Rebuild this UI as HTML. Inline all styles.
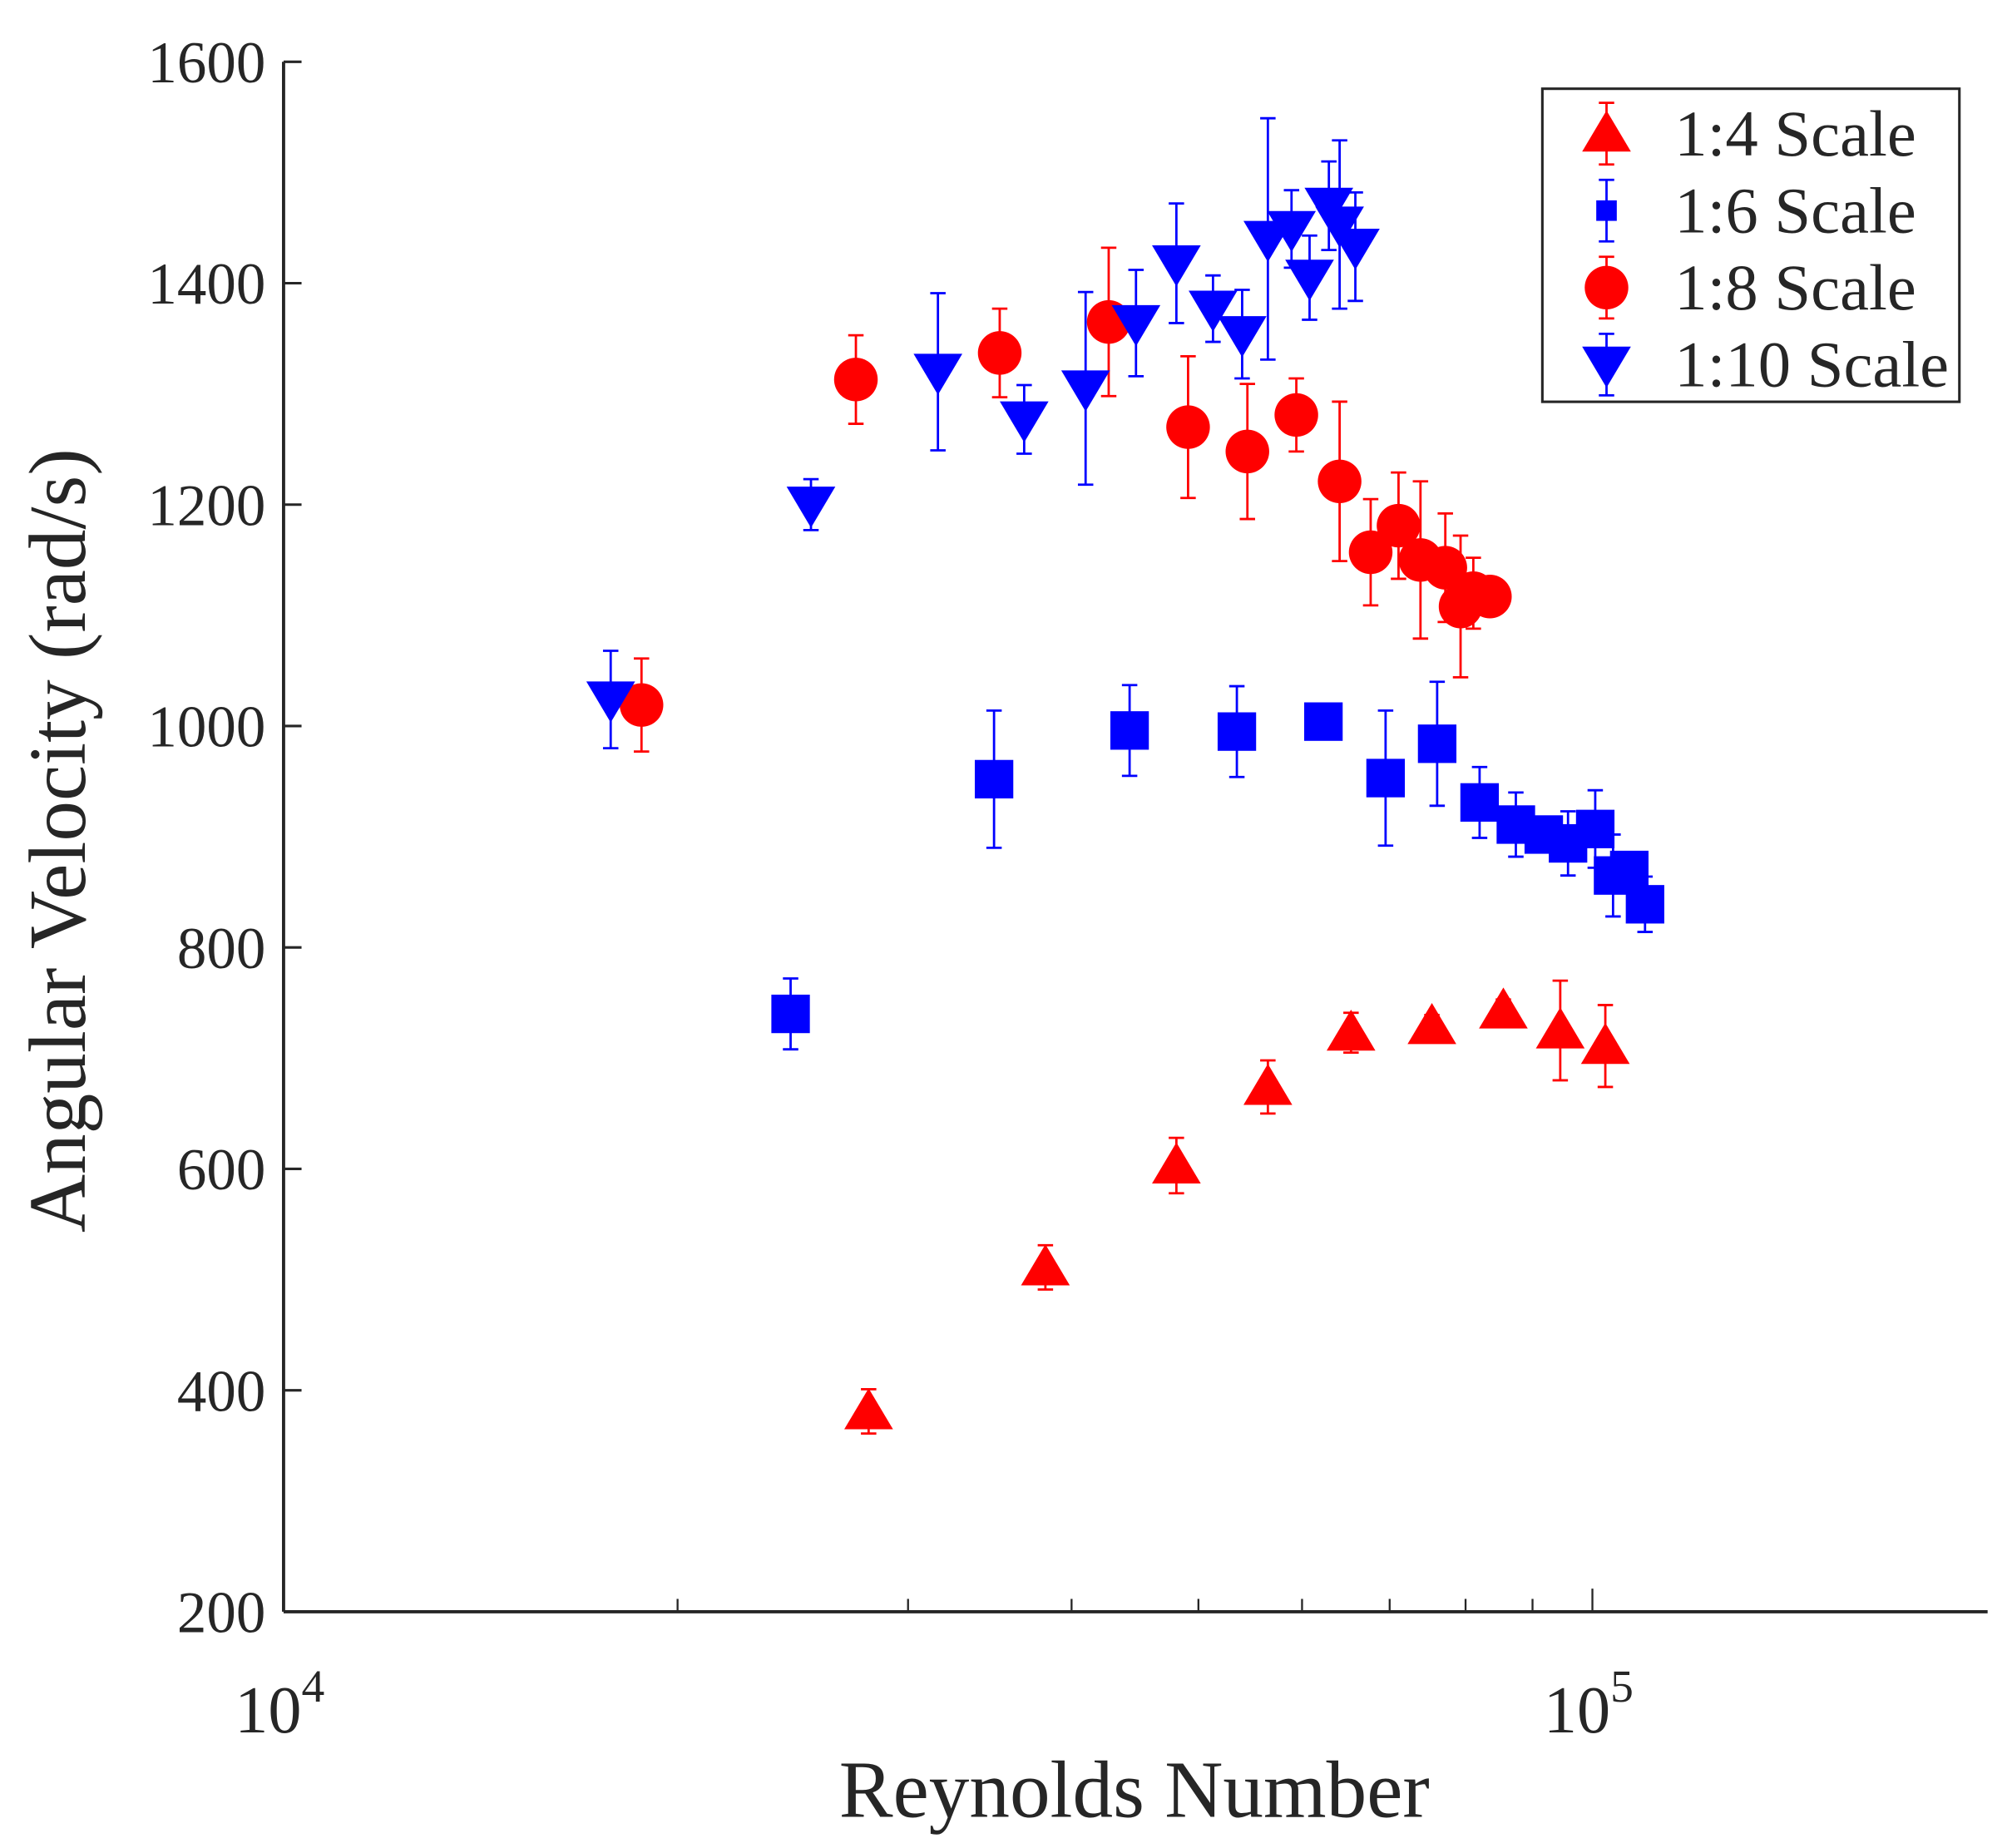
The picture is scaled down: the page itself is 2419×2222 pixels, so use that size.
<!DOCTYPE html>
<html><head><meta charset="utf-8"><style>
html,body{margin:0;padding:0;background:#fff}
svg{display:block}
text{font-family:"Liberation Serif",serif;fill:#262626}
</style></head><body>
<svg id="chart" width="2419" height="2222" viewBox="0 0 1568 1440" xmlns="http://www.w3.org/2000/svg">
<g id="axes"></g>
<g id="marks"></g>
<text x="884" y="1416" font-size="63" text-anchor="middle">Reynolds Number</text>
<text transform="translate(66,655) rotate(-90)" font-size="63" text-anchor="middle">Angular Velocity (rad/s)</text>
<g id="legend"></g>
</svg>
<script>
const s1Re=[27990,38200,48100,56500,65400,75400,85500,94500,102300];
const s1V=[381,511,603,674,723,729,743,725,711];
const s1E=[20,20,25,24,18,10,10,45,37];
const s2Re=[24400,34900,44300,53500,62300,69500,76100,82000,87400,91800,95800,100500,103700,106700,109700];
const s2V=[740,952,996,995,1004,953,984,931,911,902,894,907,865,870,839];
const s2E=[32,62,41,41,8,61,56,32,29,15,29,35,37,15,25];
const s3Re=[18770,27370,35250,42700,49100,54500,59400,64100,67700,71100,73900,77200,79300,81100,83500];
const s3V=[1019,1313,1337,1365,1270,1248,1281,1221,1157,1181,1150,1143,1108,1120,1117];
const s3E=[42,40,40,67,64,61,33,72,48,48,71,49,64,32,10];
const s4Re=[17780,25290,31620,36800,41000,44800,48100,51300,54000,56500,58900,60800,62900,64100,65900];
const s4V=[1024,1200,1320,1277,1305,1364,1418,1377,1354,1440,1449,1405,1470,1453,1433];
const s4E=[44,23,71,31,87,48,54,30,40,109,35,38,40,76,49];
const yTicks=[200,400,600,800,1000,1200,1400,1600];
const legendLabels=["1:4 Scale","1:6 Scale","1:8 Scale","1:10 Scale"];

const NS="http://www.w3.org/2000/svg";
const X0=221,X1=1549,DEC=1020,Y0=1256,Y1=48;
function sx(v){return X0+(Math.log10(v)-4)*DEC;}
function sy(v){return Y0-(v-200)/1400*(Y0-Y1);}
function mk(tag,attrs,parent){const e=document.createElementNS(NS,tag);for(const k in attrs)e.setAttribute(k,attrs[k]);parent.appendChild(e);return e;}
const axes=document.getElementById('axes');
const marks=document.getElementById('marks');
const legend=document.getElementById('legend');
const AX="#262626";
let l=mk('line',{x1:X0,y1:Y0,x2:X1,y2:Y0,stroke:AX,'stroke-width':2.5},axes);


l=mk('line',{x1:X0,y1:Y0,x2:X0,y2:Y1,stroke:AX,'stroke-width':2.5},axes);


yTicks.forEach(v=>{
  const t=mk('line',{x1:X0,y1:sy(v),x2:X0+14,y2:sy(v),stroke:AX,'stroke-width':2},axes);
  
  
  const tx=mk('text',{x:X0-14,y:sy(v)+16,'font-size':46,'text-anchor':'end'},axes);
  tx.textContent=v;
  
  
});
[2e4,3e4,4e4,5e4,6e4,7e4,8e4,9e4,1e5].forEach(v=>{
  const len=v===1e5?18:10;
  const t=mk('line',{x1:sx(v),y1:Y0,x2:sx(v),y2:Y0-len,stroke:AX,'stroke-width':1.5},axes);
  
  
});
[[1e4,"4"],[1e5,"5"]].forEach(([v,e])=>{
  const tx=mk('text',{x:sx(v)-38,y:1350,'font-size':52},axes);
  tx.textContent="10";
  
  
  const sup=mk('tspan',{dy:-24,'font-size':36},tx);
  sup.textContent=e;
});
function marker(type,x,y,color,parent){
  let m;
  if(type==='tri') m=mk('polygon',{points:`${x},${y-18} ${x-19},${y+14} ${x+19},${y+14}`,fill:color},parent);
  else if(type==='dtri') m=mk('polygon',{points:`${x},${y+18} ${x-19},${y-14} ${x+19},${y-14}`,fill:color},parent);
  else if(type==='sq') m=mk('rect',{x:x-15,y:y-15,width:30,height:30,fill:color},parent);
  else m=mk('circle',{cx:x,cy:y,r:17,fill:color},parent);
  return m;
}
function series(re,v,e,type,color,name){
  const g=mk('g',{},marks);
  
  
  re.forEach((r,i)=>{
    const x=sx(r),yt=sy(v[i]+e[i]),yb=sy(v[i]-e[i]);
    const eb=mk('path',{d:`M${x},${yt}V${yb}M${x-6},${yt}H${x+6}M${x-6},${yb}H${x+6}`,stroke:color,'stroke-width':1.8,fill:'none'},g);
    
    
    const m=marker(type,x,sy(v[i]),color,g);
    
    
  });
}
series(s1Re,s1V,s1E,'tri','#ff0000','series-1-4-scale');
series(s2Re,s2V,s2E,'sq','#0000ff','series-1-6-scale');
series(s3Re,s3V,s3E,'circ','#ff0000','series-1-8-scale');
series(s4Re,s4V,s4E,'dtri','#0000ff','series-1-10-scale');
const box=mk('rect',{x:1202,y:69,width:325,height:244,fill:'#fff',stroke:AX,'stroke-width':2},legend);


const lt=['tri','sq','circ','dtri'],lc=['#ff0000','#0000ff','#ff0000','#0000ff'];
legendLabels.forEach((lab,i)=>{
  const y=104+i*60,x=1252;
  const g=mk('g',{},legend);
  
  
  mk('path',{d:`M${x},${y-24}V${y+24}M${x-6},${y-24}H${x+6}M${x-6},${y+24}H${x+6}`,stroke:lc[i],'stroke-width':1.8,fill:'none'},g);
  const m=marker(lt[i],x,y,lc[i],g);
  if(lt[i]==='sq'){m.setAttribute('x',x-8);m.setAttribute('y',y-8);m.setAttribute('width',16);m.setAttribute('height',16);}
  const t=mk('text',{x:1305,y:y+17,'font-size':51},g);
  t.textContent=lab;
});
</script>
</body></html>
